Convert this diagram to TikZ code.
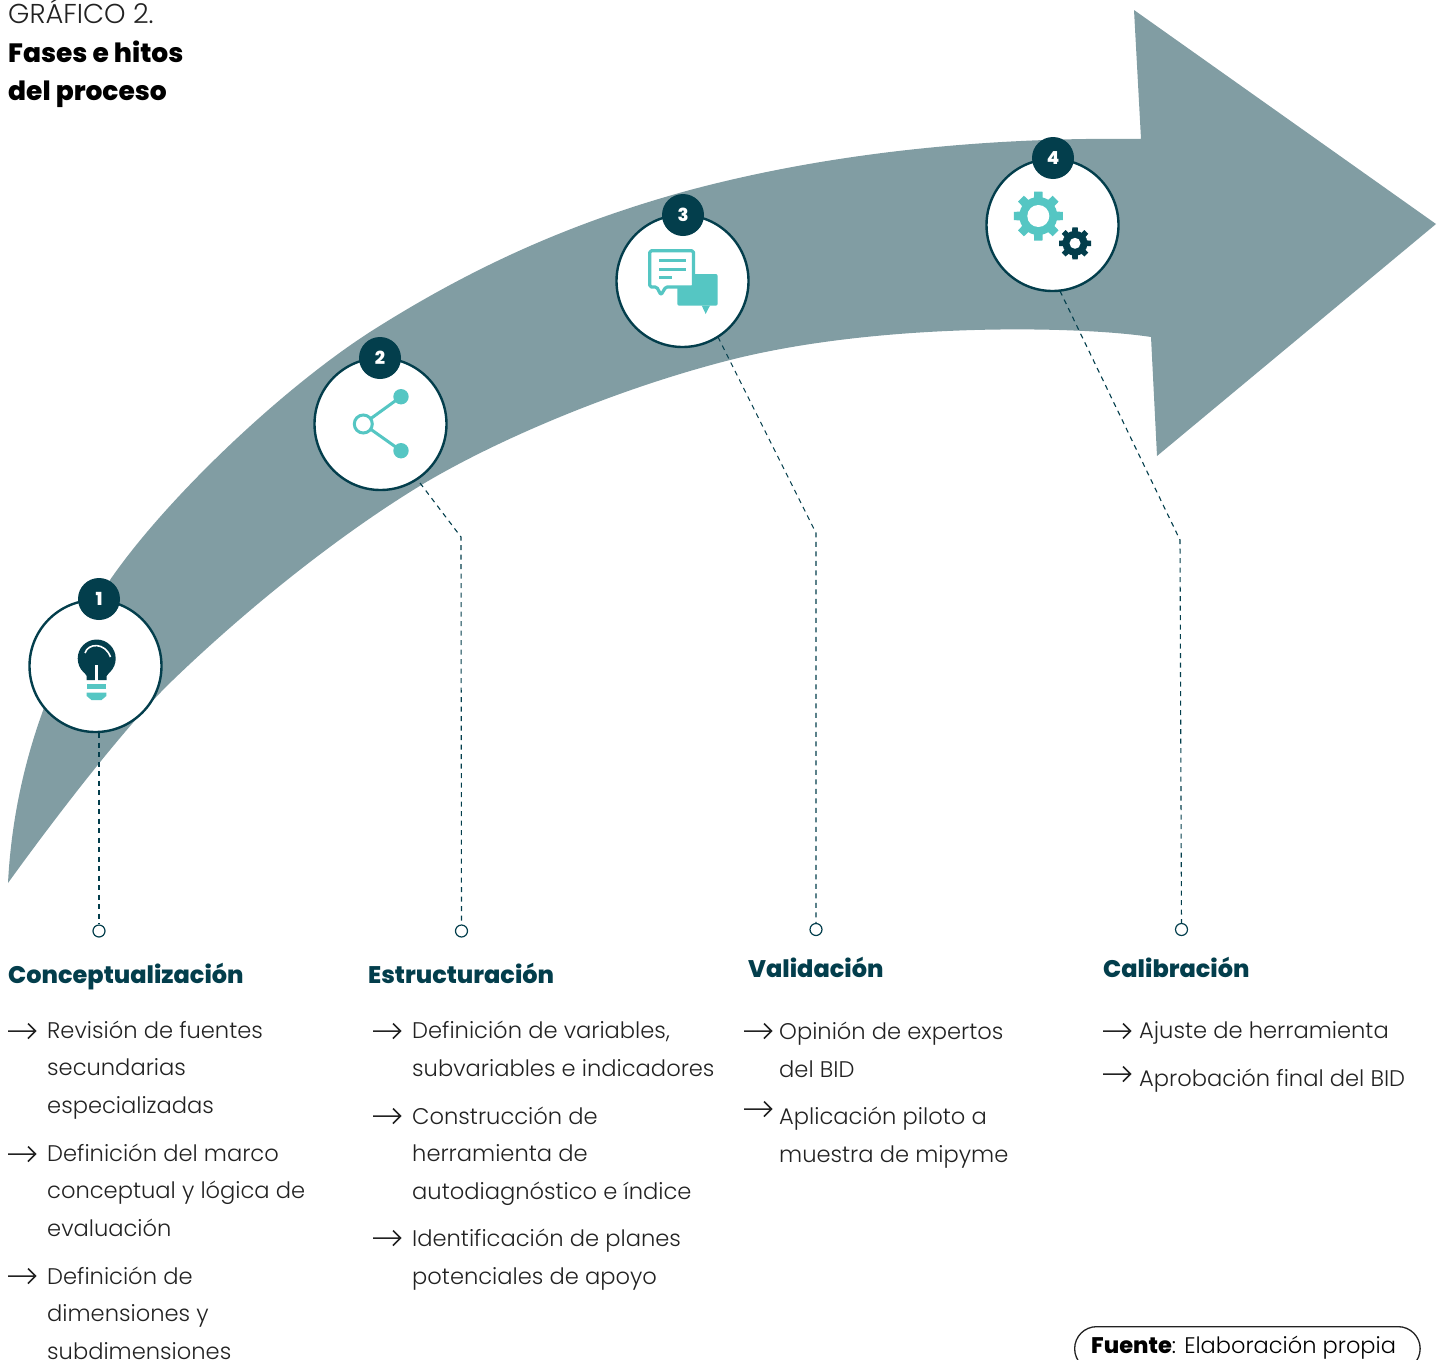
\documentclass[tikz,border=0pt]{standalone}
\usepackage{fontspec}
\setmainfont{Poppins Light}[BoldFont=Poppins ExtraBold]
\definecolor{arrowc}{HTML}{819DA3}
\definecolor{darkc}{HTML}{033E4C}
\definecolor{tealc}{HTML}{55C6C3}
\definecolor{inkc}{HTML}{222222}
\tikzset{
 phase/.style={circle,draw=darkc,line width=2.4pt,fill=white,minimum size=132pt,inner sep=0pt},
 badge/.style={circle,fill=darkc,minimum size=42pt,inner sep=0pt,text=white,font=\fontsize{18}{18}\selectfont\bfseries},
 endp/.style={circle,draw=darkc,line width=1.2pt,fill=white,minimum size=12pt,inner sep=0pt},
 dashc/.style={draw=darkc,line width=1.1pt,dash pattern=on 5pt off 4.5pt},
 body/.style={anchor=base west,inner sep=0pt,align=left,text=inkc,font=\fontsize{22.6}{37.5}\selectfont},
 source/.style={anchor=base west,inner sep=0pt,text=black,font=\fontsize{22.5}{26}\selectfont},
 head/.style={anchor=base west,inner sep=0pt,text=darkc,font=\fontsize{24}{28}\selectfont\bfseries},
 title/.style={anchor=base west,inner sep=0pt,text=inkc,font=\fontsize{27.3}{38}\selectfont},
 btitle/.style={anchor=base west,inner sep=0pt,text=black,font=\fontsize{26.5}{38}\selectfont\bfseries},
 bul/.style={draw=inkc,line width=1.5pt},
}
\newcommand{\bulletarrow}[2]{\draw[bul] (#1,#2) -- ++(27.5,0) ++(-7.5,-7.5) -- ++(7.5,7.5) -- ++(-7.5,7.5);}
\newcommand{\gearicon}[5]{% x y outer root hole colour
 \begin{scope}[shift={(#1,#2)}]
  \fill[#5] (0,0) circle[radius=#4];
  \foreach \a in {0,45,...,315}{\fill[#5,rotate=\a] (-#3*0.2,0) -- (-#3*0.17,#3) -- (#3*0.17,#3) -- (#3*0.2,0) -- cycle;}
 \end{scope}}
\begin{document}
\begin{tikzpicture}[x=1pt,y=-1pt]
\useasboundingbox (0,0) rectangle (1443,1360);
\clip (0,0) rectangle (1443,1360);
% big arrow
\fill[arrowc] (8,883) .. controls (14,765) and (55,660) .. (110,580)
 .. controls (165,500) and (280,390) .. (370,332)
 .. controls (480,262) and (580,220) .. (690,190)
 .. controls (840,150) and (1000,137) .. (1141,139)
 -- (1134,10) -- (1436,224) -- (1157,456) -- (1151,337)
 .. controls (1080,326) and (880,322) .. (730,360)
 .. controls (620,388) and (500,438) .. (423,484)
 .. controls (345,531) and (253,603) .. (173,680)
 .. controls (125,726) and (52,822) .. (8,883) -- cycle;
% phase circles
\node[phase] (c1) at (95.5,666) {};
\node[phase] (c2) at (380.5,424) {};
\node[phase] (c3) at (682.5,281) {};
\node[phase] (c4) at (1052.5,225) {};
\node[badge] (b1) at (99,599) {1};
\node[badge] (b2) at (380,358) {2};
\node[badge] (b3) at (683,215) {3};
\node[badge] (b4) at (1053,158) {4};
% end points
\node[endp] (e1) at (99,931) {};
\node[endp] (e2) at (461.5,931) {};
\node[endp] (e3) at (816,929.5) {};
\node[endp] (e4) at (1181.5,929.5) {};
\coordinate (k2) at (461,537);
\coordinate (k3) at (816,533);
\coordinate (k4) at (1180,540);
\coordinate (s1) at (99,733);
\coordinate (s2) at (420,483);
\coordinate (s3) at (718,337);
\coordinate (s4) at (1060,291);
\draw[dashc] (s1) -- (e1);
\draw[dashc] (s2) -- (k2) -- (e2);
\draw[dashc] (s3) -- (k3) -- (e3);
\draw[dashc] (s4) -- (k4) -- (e4);
% bulb
\fill[darkc] (96.7,658.5) circle[radius=19];
\fill[darkc] (79,665) -- (114.4,665) -- (106.7,676) -- (106.7,680) -- (86.7,680) -- (86.7,676) -- cycle;
\fill[white] (95.2,665) rectangle (98.4,681);
\draw[white,line width=1.6pt] (85,653) .. controls (88,643) and (105,642) .. (110.5,657);
\fill[tealc] (86.7,684) rectangle (106.3,689);
\fill[tealc] (86.7,692.7) -- (106.3,692.7) -- (106.3,696) -- (101.5,700) -- (91.5,700) -- (86.7,696) -- cycle;
% share
\draw[tealc,line width=3pt] (401,396.7) -- (363.3,424) -- (401,450.7);
\fill[tealc] (401,396.7) circle[radius=7.7];
\fill[tealc] (401,450.7) circle[radius=7.7];
\draw[tealc,line width=3pt,fill=white] (363.3,424) circle[radius=9];
% chat
\fill[tealc,rounded corners=2pt] (677.3,274) rectangle (717.7,305.7);
\fill[tealc] (701.7,305.5) -- (705.7,314) -- (710,305.5) -- cycle;
\fill[white] (672,270) rectangle (677.3,295);
\draw[tealc,line width=3.2pt,fill=white,rounded corners=1.5pt,line join=round] (649.8,250.8) -- (693.5,250.8) -- (693.5,287) -- (665.7,287) -- (661,295) -- (656.7,287) -- (649.8,287) -- cycle;
\fill[tealc] (659,259) rectangle (686,262);
\fill[tealc] (659,267.7) rectangle (686,271);
\fill[tealc] (659,276.3) rectangle (672,279.3);
% gears
\gearicon{1038.3}{216}{24.5}{19}{tealc}
\fill[white] (1038.3,216) circle[radius=11];
\gearicon{1075}{243.3}{16}{12.5}{darkc}
\fill[white] (1075,243.3) circle[radius=5.5];
% title
\node[title] (t1) at (8,23) {GRÁFICO 2.};
\node[btitle] (t2) at (8,62) {Fases e hitos};
\node[btitle] (t3) at (8,100) {del proceso};
% column 1
\node[head] (h1) at (8,983) {Conceptualización};
\node[body] (a1) at (47,1113) {Revisión de fuentes\\secundarias\\especializadas};
\node[body] (a2) at (47,1236) {Definición del marco\\conceptual y lógica de\\evaluación};
\node[body] (a3) at (47,1359) {Definición de\\dimensiones y\\subdimensiones};
\bulletarrow{8}{1031}\bulletarrow{8}{1154}\bulletarrow{8}{1276}
% column 2
\node[head] (h2) at (368,983) {Estructuración};
\node[body] (b21) at (412,1076) {Definición de variables,\\subvariables e indicadores};
\node[body] (b22) at (412,1199) {Construcción de\\herramienta de\\autodiagnóstico e índice};
\node[body] (b23) at (412,1284) {Identificación de planes\\potenciales de apoyo};
\bulletarrow{373}{1031}\bulletarrow{373}{1116}\bulletarrow{373}{1238}
% column 3
\node[head] (h3) at (748,977) {Validación};
\node[body] (c31) at (779,1077) {Opinión de expertos\\del BID};
\node[body] (c32) at (779,1162) {Aplicación piloto a\\muestra de mipyme};
\bulletarrow{744}{1031}\bulletarrow{744}{1109}
% column 4
\node[head] (h4) at (1103,977) {Calibración};
\node[body] (d1) at (1139,1038.5) {Ajuste de herramienta};
\node[body] (d2) at (1139,1086) {Aprobación final del BID};
\bulletarrow{1103}{1031}\bulletarrow{1103}{1074}
% source
\node[draw=inkc,line width=1.3pt,rounded corners=22pt,minimum width=345.5pt,minimum height=44pt,anchor=north west,inner sep=0pt] (p) at (1074,1326) {};
\node[source] (f) at (1091,1353) {\textbf{Fuente}: Elaboración propia};
\end{tikzpicture}
\end{document}
